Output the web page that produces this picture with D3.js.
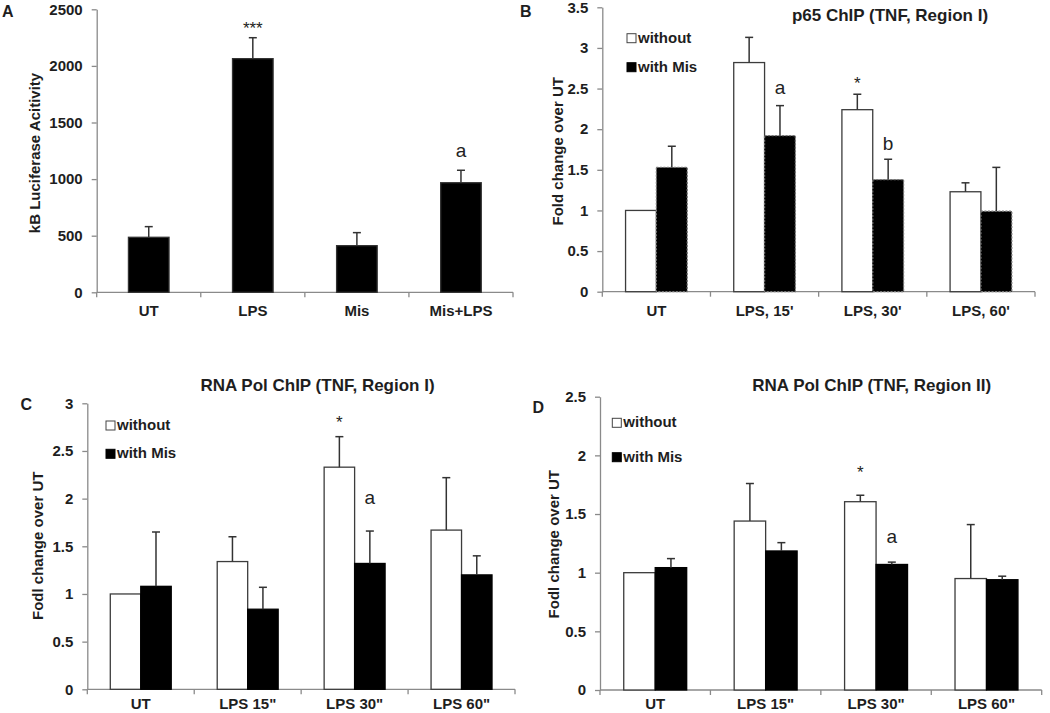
<!DOCTYPE html>
<html><head><meta charset="utf-8">
<script src="https://cdn.jsdelivr.net/npm/d3@7"></script>
<style>
html,body{margin:0;padding:0;background:#fff;}
svg{display:block;font-family:"Liberation Sans",Arial,sans-serif;}
</style></head>
<body><svg id="c" width="1050" height="713"></svg>
<script>
// ---------- DATA ----------
const aCats = ["UT", "LPS", "Mis", "Mis+LPS"];
const aVals = [486, 2064, 412, 968];
const aErrs = [94, 185, 115, 110];
const aTicks = [0, 500, 1000, 1500, 2000, 2500];

const bCats = ["UT", "LPS, 15'", "LPS, 30'", "LPS, 60'"];
const bWithout = [1.0, 2.82, 2.24, 1.23];
const bWithoutErr = [0, 0.31, 0.19, 0.11];
const bWithMis = [1.53, 1.92, 1.38, 0.99];
const bWithMisErr = [0.26, 0.37, 0.25, 0.54];
const bTicks = [0, 0.5, 1, 1.5, 2, 2.5, 3, 3.5];

const cCats = ["UT", "LPS 15\"", "LPS 30\"", "LPS 60\""];
const cWithout = [1.0, 1.34, 2.33, 1.67];
const cWithoutErr = [0, 0.26, 0.32, 0.55];
const cWithMis = [1.08, 0.84, 1.32, 1.20];
const cWithMisErr = [0.57, 0.23, 0.34, 0.20];
const cTicks = [0, 0.5, 1, 1.5, 2, 2.5, 3];

const dCats = ["UT", "LPS 15\"", "LPS 30\"", "LPS 60\""];
const dWithout = [1.0, 1.44, 1.605, 0.95];
const dWithoutErr = [0, 0.32, 0.055, 0.46];
const dWithMis = [1.043, 1.185, 1.07, 0.94];
const dWithMisErr = [0.077, 0.071, 0.02, 0.03];
const dTicks = [0, 0.5, 1, 1.5, 2, 2.5];

const seriesNames = ["without", "with Mis"];

// annotations: [category index, series index, label, value at label baseline]
const aNotes = [[1, 0, "***", 2285], [3, 0, "a", 1198]];
const bNotes = [[1, 1, "a", 2.435], [2, 0, "*", 2.49], [2, 1, "b", 1.745]];
const cNotes = [[2, 0, "*", 2.745], [2, 1, "a", 1.944]];
const dNotes = [[2, 0, "*", 1.81], [2, 1, "a", 1.25]];

// ---------- DRAW ----------
const svg = d3.select("#c");
const AXIS = "#8a8a8a";

function panel(cfg) {
  const g = svg.append("g");
  const x = d3.scaleBand().domain(cfg.cats).range([cfg.x0, cfg.x1])
    .paddingInner(cfg.pad).paddingOuter(cfg.pad / 2);
  const y = d3.scaleLinear().domain([0, d3.max(cfg.ticks)]).range([cfg.yBot, cfg.yTop]);
  const nS = cfg.series.length;
  const xs = d3.scaleBand().domain(d3.range(nS)).range([0, x.bandwidth()]);

  // y axis
  const ya = g.append("g").attr("transform", `translate(${cfg.x0},0)`)
    .call(d3.axisLeft(y).tickValues(cfg.ticks).tickFormat(d3.format("")).tickSize(5).tickSizeOuter(0).tickPadding(9));
  ya.select(".domain").attr("stroke", AXIS).attr("stroke-width", 1.3);
  ya.selectAll(".tick line").attr("stroke", AXIS).attr("stroke-width", 1.3);
  ya.selectAll("text").attr("font-size", 15).attr("font-weight", "bold").attr("fill", "#1e1e1e").attr("font-family", "Liberation Sans, Arial, sans-serif");

  // x axis
  const xa = g.append("g").attr("transform", `translate(0,${cfg.yBot})`)
    .call(d3.axisBottom(x).tickSize(0).tickPadding(0));
  xa.select(".domain").remove();
  xa.selectAll("text").attr("font-size", 15).attr("font-weight", "bold").attr("fill", "#1e1e1e")
    .attr("dy", 0).attr("y", cfg.labOff).attr("font-family", "Liberation Sans, Arial, sans-serif");
  g.append("line").attr("x1", cfg.x0).attr("x2", cfg.x1).attr("y1", cfg.yBot).attr("y2", cfg.yBot)
    .attr("stroke", AXIS).attr("stroke-width", 1.3);
  g.selectAll(".xt").data(d3.range(cfg.cats.length + 1)).enter().append("line")
    .attr("x1", i => cfg.x0 + i * x.step()).attr("x2", i => cfg.x0 + i * x.step())
    .attr("y1", cfg.yBot).attr("y2", cfg.yBot + 5).attr("stroke", AXIS).attr("stroke-width", 1.3);

  // bars
  cfg.series.forEach((s, si) => {
    const data = cfg.cats.map((c, i) => ({c, v: s.vals[i], e: s.errs[i]}));
    const bx = d => x(d.c) + xs(si);
    const bw = xs.bandwidth();
    g.selectAll(".bar" + si).data(data).enter().append("rect")
      .attr("x", bx).attr("width", bw)
      .attr("y", d => y(d.v)).attr("height", d => cfg.yBot - y(d.v))
      .attr("fill", s.fill).attr("stroke", s.stroke).attr("stroke-width", 1.3)
      .attr("stroke-dasharray", s.dash || null);
    const eb = data.filter(d => d.e > 0);
    g.selectAll(".ev" + si).data(eb).enter().append("line")
      .attr("x1", d => bx(d) + bw / 2).attr("x2", d => bx(d) + bw / 2)
      .attr("y1", d => y(d.v)).attr("y2", d => y(d.v + d.e))
      .attr("stroke", "#333").attr("stroke-width", 1.5);
    g.selectAll(".ec" + si).data(eb).enter().append("line")
      .attr("x1", d => bx(d) + bw / 2 - 4).attr("x2", d => bx(d) + bw / 2 + 4)
      .attr("y1", d => y(d.v + d.e)).attr("y2", d => y(d.v + d.e))
      .attr("stroke", "#333").attr("stroke-width", 1.5);
  });

  // annotations
  cfg.notes.forEach(n => {
    const cx = x(cfg.cats[n[0]]) + xs(n[1]) + xs.bandwidth() / 2;
    const star = n[2].startsWith("*");
    g.append("text").attr("x", cx).attr("y", y(n[3])).attr("text-anchor", "middle")
      .attr("font-size", star ? 17 : 19).attr("fill", "#222").text(n[2]);
  });

  // title
  if (cfg.title) {
    g.append("text").attr("x", cfg.titleX).attr("y", cfg.titleY).attr("text-anchor", "middle")
      .attr("font-size", 17).attr("font-weight", "bold").attr("fill", "#1e1e1e").text(cfg.title);
  }
  // y label
  g.append("text").attr("transform", `rotate(-90)`).attr("x", -cfg.ylabY).attr("y", cfg.ylabX)
    .attr("text-anchor", "middle").attr("font-size", 15).attr("font-weight", "bold").attr("fill", "#1e1e1e")
    .text(cfg.ylabel);
  // panel letter
  g.append("text").attr("x", cfg.letX).attr("y", cfg.letY).attr("font-size", 16).attr("font-weight", "bold")
    .attr("fill", "#1e1e1e").text(cfg.letter);

  // legend
  if (cfg.legend) {
    cfg.series.forEach((s, si) => {
      const ly = cfg.legend[1] + si * cfg.legend[2];
      g.append("rect").attr("x", cfg.legend[0]).attr("y", ly - 9).attr("width", 9).attr("height", 9)
        .attr("fill", s.fill).attr("stroke", si === 0 ? "#444" : "#000").attr("stroke-width", 1);
      g.append("text").attr("x", cfg.legend[0] + 11).attr("y", ly).attr("font-size", 15)
        .attr("font-weight", "bold").attr("fill", "#1e1e1e").text(s.name);
    });
  }
}

panel({
  cats: aCats, ticks: aTicks, x0: 96.7, x1: 513, yTop: 9.3, yBot: 292.3, pad: 0.61, labOff: 24,
  series: [{name: "", vals: aVals, errs: aErrs, fill: "#000", stroke: "#333"}],
  notes: aNotes, ylabel: "kB Luciferase Acitivity", ylabX: 40, ylabY: 153,
  letter: "A", letX: 2, letY: 17
});
panel({
  cats: bCats, ticks: bTicks, x0: 602.3, x1: 1035, yTop: 7.3, yBot: 291.7, pad: 0.43, labOff: 24,
  series: [
    {name: seriesNames[0], vals: bWithout, errs: bWithoutErr, fill: "#fff", stroke: "#3c3c3c"},
    {name: seriesNames[1], vals: bWithMis, errs: bWithMisErr, fill: "#000", stroke: "#777", dash: "2,1.5"}],
  notes: bNotes, title: "p65 ChIP (TNF, Region I)", titleX: 890, titleY: 21,
  ylabel: "Fold change over UT", ylabX: 562.5, ylabY: 151.3,
  letter: "B", letX: 520, letY: 17, legend: [627, 42.7, 29]
});
panel({
  cats: cCats, ticks: cTicks, x0: 87.3, x1: 515, yTop: 403.3, yBot: 689.3, pad: 0.43, labOff: 20,
  series: [
    {name: seriesNames[0], vals: cWithout, errs: cWithoutErr, fill: "#fff", stroke: "#3c3c3c"},
    {name: seriesNames[1], vals: cWithMis, errs: cWithMisErr, fill: "#000", stroke: "#000"}],
  notes: cNotes, title: "RNA Pol ChIP (TNF, Region I)", titleX: 317.5, titleY: 390.5,
  ylabel: "Fodl change over UT", ylabX: 43, ylabY: 545.8,
  letter: "C", letX: 20.5, letY: 409.5, legend: [106, 430, 28.3]
});
panel({
  cats: dCats, ticks: dTicks, x0: 600, x1: 1041.7, yTop: 396.7, yBot: 690, pad: 0.43, labOff: 19.3,
  series: [
    {name: seriesNames[0], vals: dWithout, errs: dWithoutErr, fill: "#fff", stroke: "#3c3c3c"},
    {name: seriesNames[1], vals: dWithMis, errs: dWithMisErr, fill: "#000", stroke: "#000"}],
  notes: dNotes, title: "RNA Pol ChIP (TNF, Region II)", titleX: 871.7, titleY: 390.5,
  ylabel: "Fodl change over UT", ylabX: 559, ylabY: 544.2,
  letter: "D", letX: 532.5, letY: 413.3, legend: [612.3, 427.3, 34.4]
});
</script>
</body></html>
